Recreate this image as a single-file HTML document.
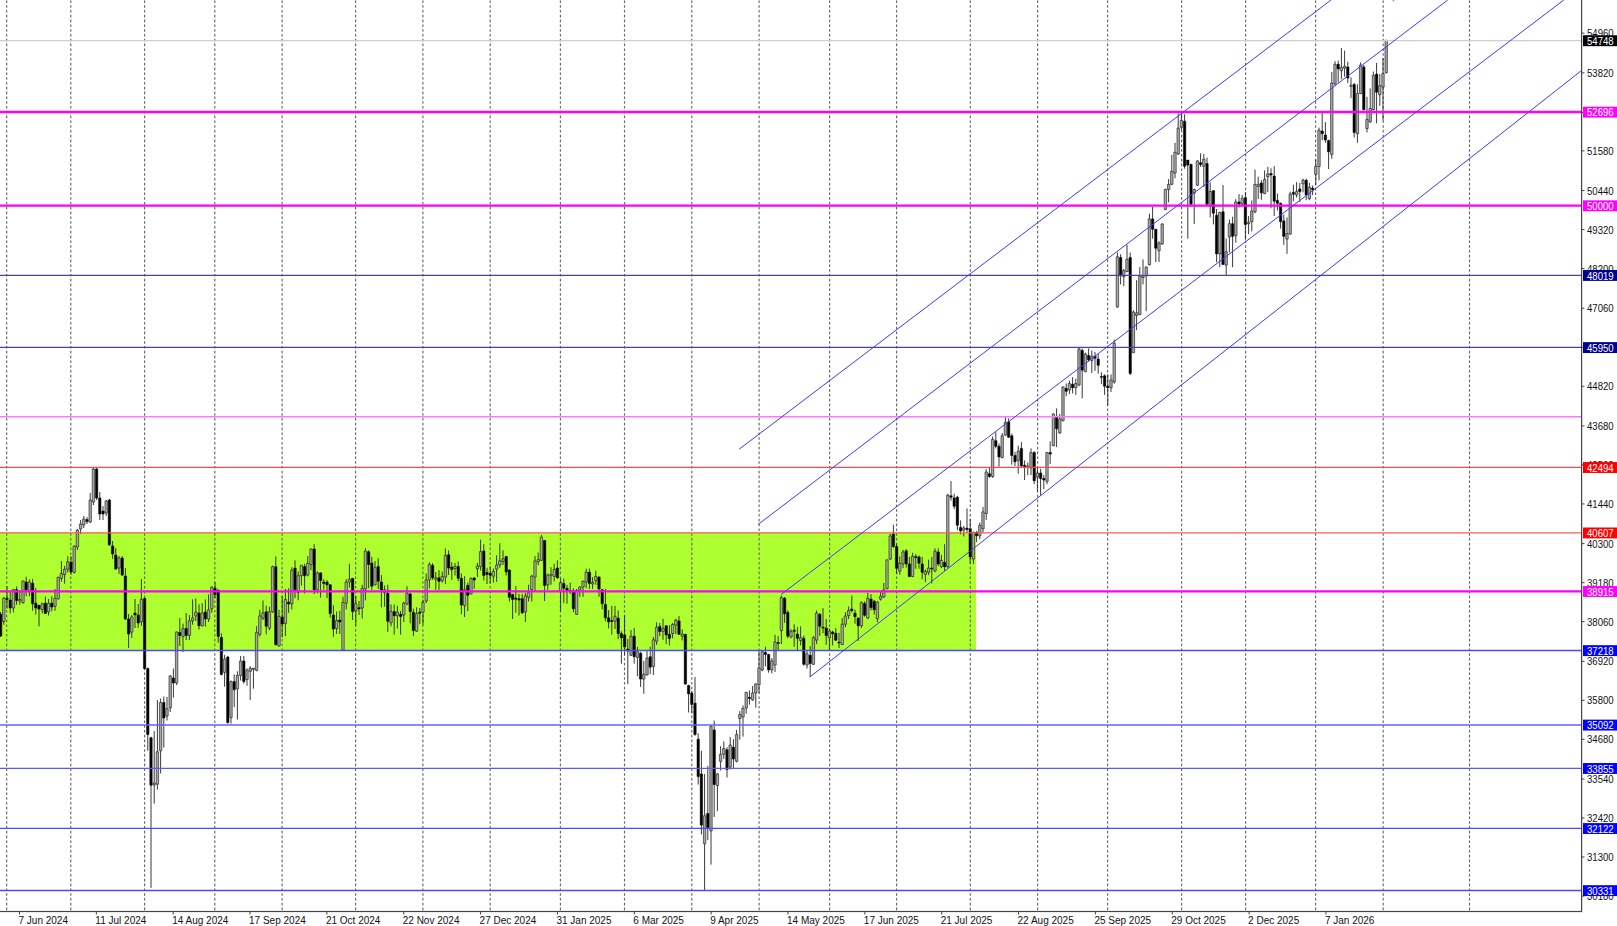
<!DOCTYPE html><html><head><meta charset="utf-8"><style>html,body{margin:0;padding:0;background:#fff;width:1617px;height:926px;overflow:hidden}svg{display:block}text{font-family:"Liberation Sans",sans-serif}</style></head><body>
<svg width="1617" height="926" viewBox="0 0 1617 926">
<rect x="0" y="0" width="1617" height="926" fill="#fff"/>
<rect x="0" y="532.6" width="976.1" height="117.79999999999995" fill="#ADFF2F"/>
<line x1="6.7" y1="0.4" x2="6.7" y2="910.5" stroke="#666" stroke-width="1.15" stroke-dasharray="2.6 2.2"/>
<line x1="70.8" y1="0.4" x2="70.8" y2="910.5" stroke="#666" stroke-width="1.15" stroke-dasharray="2.6 2.2"/>
<line x1="144.6" y1="0.4" x2="144.6" y2="910.5" stroke="#666" stroke-width="1.15" stroke-dasharray="2.6 2.2"/>
<line x1="214.8" y1="0.4" x2="214.8" y2="910.5" stroke="#666" stroke-width="1.15" stroke-dasharray="2.6 2.2"/>
<line x1="282.1" y1="0.4" x2="282.1" y2="910.5" stroke="#666" stroke-width="1.15" stroke-dasharray="2.6 2.2"/>
<line x1="355.6" y1="0.4" x2="355.6" y2="910.5" stroke="#666" stroke-width="1.15" stroke-dasharray="2.6 2.2"/>
<line x1="422.9" y1="0.4" x2="422.9" y2="910.5" stroke="#666" stroke-width="1.15" stroke-dasharray="2.6 2.2"/>
<line x1="490.2" y1="0.4" x2="490.2" y2="910.5" stroke="#666" stroke-width="1.15" stroke-dasharray="2.6 2.2"/>
<line x1="560.4" y1="0.4" x2="560.4" y2="910.5" stroke="#666" stroke-width="1.15" stroke-dasharray="2.6 2.2"/>
<line x1="624.5" y1="0.4" x2="624.5" y2="910.5" stroke="#666" stroke-width="1.15" stroke-dasharray="2.6 2.2"/>
<line x1="691.8" y1="0.4" x2="691.8" y2="910.5" stroke="#666" stroke-width="1.15" stroke-dasharray="2.6 2.2"/>
<line x1="759.1" y1="0.4" x2="759.1" y2="910.5" stroke="#666" stroke-width="1.15" stroke-dasharray="2.6 2.2"/>
<line x1="829.6" y1="0.4" x2="829.6" y2="910.5" stroke="#666" stroke-width="1.15" stroke-dasharray="2.6 2.2"/>
<line x1="896.6" y1="0.4" x2="896.6" y2="910.5" stroke="#666" stroke-width="1.15" stroke-dasharray="2.6 2.2"/>
<line x1="970.3" y1="0.4" x2="970.3" y2="910.5" stroke="#666" stroke-width="1.15" stroke-dasharray="2.6 2.2"/>
<line x1="1037.6" y1="0.4" x2="1037.6" y2="910.5" stroke="#666" stroke-width="1.15" stroke-dasharray="2.6 2.2"/>
<line x1="1107.6" y1="0.4" x2="1107.6" y2="910.5" stroke="#666" stroke-width="1.15" stroke-dasharray="2.6 2.2"/>
<line x1="1181.6" y1="0.4" x2="1181.6" y2="910.5" stroke="#666" stroke-width="1.15" stroke-dasharray="2.6 2.2"/>
<line x1="1245.6" y1="0.4" x2="1245.6" y2="910.5" stroke="#666" stroke-width="1.15" stroke-dasharray="2.6 2.2"/>
<line x1="1315.6" y1="0.4" x2="1315.6" y2="910.5" stroke="#666" stroke-width="1.15" stroke-dasharray="2.6 2.2"/>
<line x1="1383.2" y1="0.4" x2="1383.2" y2="910.5" stroke="#666" stroke-width="1.15" stroke-dasharray="2.6 2.2"/>
<line x1="1469.5" y1="0.4" x2="1469.5" y2="910.5" stroke="#666" stroke-width="1.15" stroke-dasharray="2.6 2.2"/>
<path d="M0.6 612.0V637.0M3.8 597.0V624.8M7.0 586.4V608.6M10.2 591.8V613.4M13.4 589.1V612.4M16.6 586.4V604.8M19.8 591.8V604.8M23.0 580.5V603.7M26.2 576.7V596.2M29.4 579.4V596.2M32.6 578.9V610.7M35.8 588.0V614.5M39.0 604.8V626.4M42.2 602.6V613.4M45.4 596.7V614.0M48.6 598.9V615.6M51.8 596.2V611.3M55.0 589.1V610.7M58.2 576.7V599.4M61.4 561.1V581.6M64.6 565.9V583.7M67.8 556.2V572.4M71.0 556.2V574.6M74.2 545.4V573.5M77.4 529.0V550.0M80.6 520.0V534.0M83.8 516.0V528.0M87.0 517.0V524.0M90.2 493.0V523.0M93.4 468.0V505.0M96.6 468.0V500.0M99.8 492.0V520.0M103.0 506.0V520.0M106.2 500.0V516.0M109.4 499.0V546.0M112.6 541.0V559.0M115.8 548.0V570.0M119.0 556.0V574.0M122.2 556.0V576.0M125.4 568.0V620.0M128.6 614.0V648.0M131.8 615.0V638.0M135.0 599.0V628.0M138.2 604.0V628.0M141.4 579.0V625.7M144.6 598.0V669.4M147.8 667.5V750.8M151.0 736.7V887.9M154.2 731.0V803.7M157.4 700.0V789.6M160.6 698.6V773.4M163.8 696.6V747.5M167.0 697.0V720.5M170.2 675.0V712.0M173.4 668.5V697.6M176.6 631.5V685.0M179.8 618.0V646.0M183.0 623.7V652.0M186.2 613.0V640.0M189.4 615.0V640.0M192.6 599.4V624.7M195.8 598.5V621.0M199.0 604.3V629.6M202.2 603.3V626.7M205.4 599.4V626.7M208.6 594.4V622.0M211.8 586.2V612.8M215.0 582.0V598.5M218.2 589.2V642.6M221.4 633.4V675.4M224.6 654.9V686.7M227.8 655.9V723.6M231.0 680.5V723.6M234.2 674.4V707.2M237.4 671.3V719.5M240.6 655.9V680.5M243.8 655.9V683.6M247.0 668.2V685.7M250.2 666.2V700.0M253.4 668.2V688.7M256.6 626.2V671.3M259.8 609.8V636.4M263.0 600.5V620.0M266.2 605.7V634.4M269.4 606.7V630.3M272.6 565.6V612.8M275.8 556.4V645.7M279.0 609.8V646.7M282.2 596.1V637.5M285.4 589.0V636.1M288.6 588.3V612.9M291.8 567.3V609.4M295.0 560.3V598.2M298.2 571.5V600.3M301.4 565.2V585.5M304.6 563.8V593.3M307.8 556.1V576.4M311.0 548.3V570.1M314.2 544.1V594.0M317.4 571.5V593.3M320.6 572.2V597.5M323.8 579.2V589.8M327.0 580.0V598.2M330.2 584.1V617.8M333.4 605.2V636.8M336.6 611.5V634.0M339.8 610.8V634.0M343.0 596.8V651.0M346.2 579.2V609.4M349.4 563.8V587.6M352.6 577.8V620.0M355.8 596.1V625.6M359.0 601.0V615.0M362.2 584.8V618.5M365.4 548.3V600.3M368.6 550.4V588.3M371.8 556.8V589.8M375.0 561.0V585.5M378.2 558.2V589.0M381.4 575.0V607.3M384.6 585.5V606.6M387.8 584.8V631.9M391.0 604.5V626.3M394.2 604.5V634.7M397.4 605.9V628.4M400.6 610.8V634.7M403.8 601.7V622.0M407.0 586.2V605.2M410.2 592.6V623.4M413.4 608.7V636.1M416.6 607.3V631.9M419.8 608.0V624.1M423.0 599.6V624.8M426.2 573.6V603.1M429.4 562.4V588.3M432.6 563.1V579.9M435.8 572.2V589.8M439.0 570.1V589.8M442.2 571.5V582.7M445.4 548.3V584.1M448.6 550.4V575.0M451.8 562.2V579.8M455.0 562.9V575.5M458.2 561.5V581.2M461.4 573.4V614.1M464.6 576.2V617.0M467.8 582.6V611.3M471.0 577.6V594.5M474.2 577.0V588.9M477.4 562.9V577.0M480.6 539.7V570.6M483.8 544.0V580.5M487.0 567.8V584.0M490.2 566.4V583.3M493.4 568.5V582.6M496.6 555.2V581.9M499.8 543.3V567.8M503.0 550.3V565.0M506.2 555.9V575.5M509.4 569.2V601.5M512.6 593.8V619.0M515.8 586.0V612.7M519.0 593.8V615.5M522.2 593.8V614.1M525.4 593.0V621.9M528.6 584.7V601.5M531.8 574.8V601.5M535.0 556.1V591.0M538.2 552.5V565.2M541.4 535.0V561.0M544.6 539.9V601.0M547.8 573.6V589.8M551.0 567.3V584.8M554.2 563.8V581.3M557.4 560.3V578.5M560.6 578.5V611.5M563.8 578.5V603.1M567.0 584.8V603.8M570.2 582.7V594.0M573.4 588.3V612.2M576.6 589.0V615.0M579.8 586.2V596.8M583.0 580.6V596.8M586.2 568.7V588.3M589.4 568.7V589.0M592.6 577.1V589.0M595.8 570.8V584.8M599.0 576.4V596.8M602.2 589.0V609.4M605.4 589.0V621.3M608.6 610.1V628.4M611.8 605.9V634.7M615.0 605.9V629.0M618.2 610.4V639.1M621.4 631.4V663.7M624.6 615.3V655.3M627.8 639.1V684.1M631.0 630.0V656.0M634.2 627.9V663.7M637.4 646.9V676.3M640.6 651.8V686.9M643.8 660.9V693.9M647.0 650.4V675.6M650.2 646.9V674.2M653.4 637.0V674.9M656.6 622.3V644.8M659.8 623.0V636.3M663.0 618.8V639.8M666.2 625.1V644.1M669.4 625.1V645.5M672.6 623.0V638.4M675.8 618.8V634.2M679.0 616.0V634.9M682.2 629.3V640.5M685.4 634.2V684.8M688.6 684.8V712.5M691.8 691.1V713.0M695.0 677.0V735.7M698.2 733.4V784.5M701.4 750.8V834.4M704.6 774.0V890.1M707.8 765.9V840.2M711.0 725.3V864.6M714.2 720.6V817.0M717.4 772.9V811.2M720.6 746.2V770.5M723.8 741.5V758.9M727.0 747.3V777.5M730.2 736.9V769.4M733.4 739.2V768.2M736.6 729.9V762.4M739.8 711.1V739.6M743.0 705.5V736.6M746.2 691.7V713.7M749.4 690.4V704.6M752.6 686.0V700.8M755.8 683.5V707.6M759.0 651.0V693.0M762.2 651.0V671.3M765.4 646.8V666.4M768.6 653.8V672.7M771.8 658.0V673.4M775.0 634.8V672.0M778.2 636.2V651.0M781.4 595.5V644.0M784.6 597.0V622.9M787.8 610.3V638.3M791.0 629.2V638.3M794.2 624.3V646.8M797.4 627.1V650.3M800.6 626.4V645.4M803.8 635.5V665.7M807.0 651.0V668.5M810.2 646.1V677.0M813.4 636.2V665.0M816.6 610.4V644.1M819.8 613.0V635.9M823.0 608.2V633.3M826.2 619.0V644.9M829.4 628.5V650.1M832.6 630.7V645.4M835.8 628.1V641.0M839.0 632.8V648.0M842.2 618.1V644.9M845.4 612.1V627.2M848.6 606.5V619.0M851.8 595.6V612.5M855.0 609.7V623.7M858.2 617.4V641.0M861.4 601.3V627.9M864.6 601.3V616.7M867.8 592.8V618.8M871.0 594.2V610.4M874.2 599.9V614.6M877.4 601.3V622.3M880.6 591.4V600.6M883.8 583.0V597.7M887.0 559.8V589.3M890.2 533.9V559.8M893.4 524.7V547.9M896.6 543.7V573.9M899.8 556.3V574.6M903.0 549.9V568.1M906.2 549.3V567.6M909.4 556.9V577.2M912.6 552.7V577.2M915.8 554.1V568.8M919.0 555.5V568.8M922.2 556.9V579.3M925.4 569.5V582.1M928.6 559.7V575.1M931.8 556.9V583.5M935.0 548.4V572.3M938.2 548.4V566.0M941.4 554.8V568.1M944.6 544.2V570.9M947.8 493.7V568.1M951.0 481.1V500.7M954.2 493.7V509.1M957.4 495.8V530.2M960.6 520.4V534.4M963.8 526.0V536.5M967.0 508.4V533.0M970.2 519.0V563.2M973.4 531.6V563.9M976.6 530.9V542.1M979.8 522.5V539.3M983.0 507.0V533.0M986.2 469.1V520.0M989.4 467.4V477.9M992.6 436.5V477.9M995.8 432.3V448.4M999.0 443.5V466.7M1002.2 433.0V458.3M1005.4 416.1V435.8M1008.6 418.3V437.9M1011.8 433.7V464.6M1015.0 451.9V466.0M1018.2 445.6V473.7M1021.4 442.1V466.7M1024.6 460.4V480.0M1027.8 462.5V475.1M1031.0 448.4V475.1M1034.2 451.2V484.2M1037.4 467.4V491.3M1040.6 468.8V495.5M1043.8 475.1V489.1M1047.0 451.9V484.2M1050.2 441.4V463.9M1053.4 413.3V446.3M1056.6 408.4V447.0M1059.8 414.0V433.7M1063.0 386.3V421.4M1066.2 383.5V396.2M1069.4 380.7V394.0M1072.6 377.2V393.4M1075.8 378.6V394.8M1079.0 347.7V386.3M1082.2 348.4V398.3M1085.4 352.6V372.3M1088.6 348.4V361.8M1091.8 350.5V373.0M1095.0 351.9V370.9M1098.2 354.0V373.7M1101.4 372.3V384.2M1104.6 374.4V394.8M1107.8 374.4V405.3M1111.0 374.4V392.0M1114.2 339.7V383.8M1117.4 252.5V307.8M1120.6 254.2V284.4M1123.8 268.9V286.2M1127.0 244.7V272.3M1130.2 252.5V375.1M1133.4 310.3V353.0M1136.6 280.1V330.2M1139.8 267.1V315.0M1143.0 259.4V284.4M1146.2 266.3V311.2M1149.4 213.7V265.5M1152.6 206.8V238.7M1155.8 229.2V262.0M1159.0 241.3V262.0M1162.2 223.2V244.8M1165.4 188.6V210.2M1168.6 179.1V202.4M1171.8 154.9V185.2M1175.0 142.8V178.3M1178.2 113.5V154.9M1181.4 113.5V130.0M1184.6 114.3V168.7M1187.8 160.0V238.7M1191.0 163.6V205.0M1194.2 188.6V224.0M1197.4 160.1V186.0M1200.6 153.2V167.0M1203.8 154.0V186.9M1207.0 157.5V205.0M1210.2 182.3V217.4M1213.4 190.0V224.4M1216.6 209.0V262.3M1219.8 211.8V267.2M1223.0 185.1V265.1M1226.2 238.4V275.0M1229.4 219.5V252.5M1232.6 216.7V267.2M1235.8 199.1V242.7M1239.0 194.2V207.6M1242.2 194.9V206.2M1245.4 192.1V239.8M1248.6 216.0V234.2M1251.8 200.5V231.4M1255.0 169.7V213.2M1258.2 176.7V199.1M1261.4 180.2V199.8M1264.6 170.4V194.2M1267.8 166.8V192.1M1271.0 168.3V208.3M1274.2 166.1V216.0M1277.4 193.5V210.4M1280.6 202.6V228.6M1283.8 214.6V244.8M1287.0 217.4V253.9M1290.2 191.6V234.8M1293.4 184.7V201.1M1296.6 182.1V197.6M1299.8 182.9V201.9M1303.0 178.6V192.4M1306.2 178.6V200.2M1309.4 183.0V200.2M1312.6 185.5V195.0M1315.8 159.6V184.7M1319.0 127.6V180.3M1322.2 113.0V140.2M1325.4 122.0V142.8M1328.6 139.7V169.1M1331.8 72.1V158.8M1335.0 61.1V85.7M1338.2 60.5V82.5M1341.4 48.1V79.3M1344.6 50.7V76.7M1347.8 61.8V83.1M1351.0 77.3V98.0M1354.2 83.1V137.6M1357.4 84.4V142.8M1360.6 62.4V94.2M1363.8 65.0V110.4M1367.0 96.8V132.4M1370.2 88.3V122.7M1373.4 71.5V110.4M1376.6 63.0V123.3M1379.8 74.1V105.8M1383.0 57.9V120.7M1386.2 39.7V73.4" stroke="#222" stroke-width="0.9" fill="none"/>
<path d="M2.6 598.3h2.4v23.2h-2.4zM12.2 589.7h2.4v18.3h-2.4zM18.6 599.5h2.4v1.5h-2.4zM21.8 581.0h2.4v21.6h-2.4zM28.2 582.0h2.4v8.8h-2.4zM41.0 603.7h2.4v6.0h-2.4zM47.4 603.2h2.4v8.6h-2.4zM53.8 598.3h2.4v8.1h-2.4zM57.0 577.3h2.4v21.6h-2.4zM60.2 573.5h2.4v4.8h-2.4zM63.4 569.2h2.4v5.4h-2.4zM66.6 561.6h2.4v7.6h-2.4zM73.0 546.0h2.4v26.4h-2.4zM76.2 530.0h2.4v17.0h-2.4zM79.4 524.0h2.4v5.0h-2.4zM82.6 519.0h2.4v6.0h-2.4zM89.0 500.0h2.4v22.0h-2.4zM92.2 469.0h2.4v33.0h-2.4zM105.0 501.0h2.4v12.0h-2.4zM117.8 558.0h2.4v10.0h-2.4zM130.6 617.0h2.4v15.0h-2.4zM140.2 599.4h2.4v22.4h-2.4zM153.0 783.0h2.4v2.0h-2.4zM156.2 751.8h2.4v32.4h-2.4zM159.4 702.5h2.4v48.3h-2.4zM165.8 708.6h2.4v7.4h-2.4zM169.0 676.0h2.4v32.0h-2.4zM175.4 632.0h2.4v51.0h-2.4zM181.8 628.6h2.4v7.8h-2.4zM188.2 620.8h2.4v14.6h-2.4zM191.4 617.9h2.4v2.9h-2.4zM194.6 612.0h2.4v4.0h-2.4zM201.0 613.0h2.4v12.7h-2.4zM207.4 609.8h2.4v9.2h-2.4zM210.6 587.2h2.4v21.5h-2.4zM223.4 659.0h2.4v13.3h-2.4zM229.8 681.6h2.4v35.9h-2.4zM236.2 675.4h2.4v13.3h-2.4zM239.4 661.0h2.4v14.4h-2.4zM245.8 670.3h2.4v9.2h-2.4zM249.0 668.2h2.4v3.1h-2.4zM252.2 668.2h2.4v1.3h-2.4zM255.4 632.3h2.4v38.0h-2.4zM258.6 615.9h2.4v18.5h-2.4zM261.8 612.8h2.4v5.2h-2.4zM268.2 611.8h2.4v16.4h-2.4zM271.4 566.7h2.4v45.1h-2.4zM277.8 616.4h2.4v29.5h-2.4zM284.2 599.6h2.4v23.8h-2.4zM290.6 570.1h2.4v33.7h-2.4zM297.0 575.7h2.4v16.9h-2.4zM300.2 565.2h2.4v10.5h-2.4zM306.6 563.1h2.4v11.9h-2.4zM309.8 549.0h2.4v15.5h-2.4zM316.2 572.9h2.4v16.9h-2.4zM335.4 620.6h2.4v7.8h-2.4zM341.8 602.4h2.4v47.7h-2.4zM345.0 582.0h2.4v21.1h-2.4zM348.2 579.2h2.4v2.8h-2.4zM354.6 603.8h2.4v7.0h-2.4zM361.0 588.3h2.4v19.7h-2.4zM364.2 551.1h2.4v37.9h-2.4zM373.8 567.3h2.4v17.5h-2.4zM383.4 589.8h2.4v2.8h-2.4zM389.8 611.5h2.4v11.2h-2.4zM396.2 612.2h2.4v3.5h-2.4zM402.6 603.1h2.4v11.9h-2.4zM405.8 593.3h2.4v10.5h-2.4zM415.4 613.6h2.4v17.6h-2.4zM421.8 602.4h2.4v9.8h-2.4zM425.0 579.9h2.4v21.1h-2.4zM428.2 564.5h2.4v15.4h-2.4zM434.6 577.8h2.4v1.4h-2.4zM441.0 576.4h2.4v4.2h-2.4zM444.2 555.4h2.4v21.7h-2.4zM453.8 566.4h2.4v2.1h-2.4zM463.4 589.6h2.4v16.1h-2.4zM469.8 578.3h2.4v15.5h-2.4zM476.2 566.0h2.4v2.8h-2.4zM479.4 551.7h2.4v14.7h-2.4zM492.2 571.3h2.4v4.9h-2.4zM495.4 565.0h2.4v4.2h-2.4zM498.6 560.8h2.4v4.2h-2.4zM501.8 558.7h2.4v2.8h-2.4zM524.2 595.9h2.4v16.1h-2.4zM527.4 592.4h2.4v4.9h-2.4zM530.6 576.2h2.4v13.4h-2.4zM533.8 561.0h2.4v16.1h-2.4zM537.0 559.6h2.4v2.1h-2.4zM540.2 537.1h2.4v23.2h-2.4zM546.6 575.0h2.4v9.8h-2.4zM549.8 574.3h2.4v1.4h-2.4zM553.0 569.4h2.4v7.0h-2.4zM559.4 582.7h2.4v8.5h-2.4zM575.4 590.5h2.4v23.8h-2.4zM578.6 587.0h2.4v2.8h-2.4zM581.8 581.3h2.4v5.7h-2.4zM585.0 572.2h2.4v9.8h-2.4zM591.4 582.4h2.4v1.5h-2.4zM594.6 576.4h2.4v4.2h-2.4zM613.8 616.4h2.4v4.9h-2.4zM629.8 636.3h2.4v19.0h-2.4zM636.2 651.8h2.4v5.6h-2.4zM642.6 674.2h2.4v4.9h-2.4zM645.8 658.1h2.4v16.9h-2.4zM652.2 639.8h2.4v26.7h-2.4zM655.4 627.2h2.4v14.0h-2.4zM661.8 628.6h2.4v2.8h-2.4zM671.4 624.4h2.4v9.1h-2.4zM674.6 620.2h2.4v4.9h-2.4zM681.0 634.2h2.4v2.1h-2.4zM703.4 815.8h2.4v27.9h-2.4zM709.8 726.4h2.4v104.5h-2.4zM716.2 774.0h2.4v11.6h-2.4zM719.4 754.3h2.4v7.0h-2.4zM722.6 748.5h2.4v5.8h-2.4zM729.0 745.0h2.4v22.1h-2.4zM735.4 734.6h2.4v26.7h-2.4zM738.6 714.6h2.4v3.8h-2.4zM741.8 708.5h2.4v8.6h-2.4zM745.0 692.5h2.4v15.6h-2.4zM751.4 693.0h2.4v6.9h-2.4zM754.6 683.9h2.4v9.1h-2.4zM757.8 667.8h2.4v16.9h-2.4zM761.0 651.7h2.4v18.2h-2.4zM770.6 660.8h2.4v9.1h-2.4zM773.8 641.9h2.4v23.1h-2.4zM780.2 597.6h2.4v33.0h-2.4zM789.8 631.3h2.4v5.7h-2.4zM799.4 637.6h2.4v2.9h-2.4zM805.8 653.8h2.4v11.2h-2.4zM812.2 637.6h2.4v26.7h-2.4zM815.4 613.0h2.4v27.2h-2.4zM828.2 631.1h2.4v6.5h-2.4zM841.0 624.2h2.4v20.3h-2.4zM844.2 616.0h2.4v8.2h-2.4zM847.4 610.4h2.4v5.2h-2.4zM860.2 602.7h2.4v23.1h-2.4zM866.6 598.4h2.4v19.7h-2.4zM876.2 602.0h2.4v16.8h-2.4zM879.4 596.3h2.4v2.8h-2.4zM882.6 590.0h2.4v7.0h-2.4zM885.8 559.8h2.4v28.8h-2.4zM889.0 536.0h2.4v23.1h-2.4zM898.6 563.3h2.4v7.8h-2.4zM901.8 552.0h2.4v11.9h-2.4zM911.4 556.2h2.4v20.3h-2.4zM924.2 571.6h2.4v2.8h-2.4zM927.4 568.1h2.4v4.2h-2.4zM933.8 551.3h2.4v19.6h-2.4zM940.2 560.4h2.4v6.3h-2.4zM946.6 495.1h2.4v71.6h-2.4zM962.6 528.1h2.4v2.1h-2.4zM972.2 532.3h2.4v26.7h-2.4zM978.6 525.3h2.4v10.5h-2.4zM981.8 511.9h2.4v16.9h-2.4zM985.0 472.0h2.4v41.5h-2.4zM991.4 439.3h2.4v37.2h-2.4zM1001.0 435.8h2.4v21.8h-2.4zM1004.2 422.5h2.4v12.6h-2.4zM1017.0 451.2h2.4v9.2h-2.4zM1026.6 466.0h2.4v1.4h-2.4zM1029.8 452.6h2.4v15.5h-2.4zM1036.2 473.0h2.4v4.2h-2.4zM1045.8 452.6h2.4v28.8h-2.4zM1052.2 414.0h2.4v31.6h-2.4zM1058.6 419.0h2.4v14.0h-2.4zM1061.8 387.0h2.4v33.7h-2.4zM1068.2 383.5h2.4v6.3h-2.4zM1074.6 383.5h2.4v4.2h-2.4zM1077.8 349.1h2.4v35.8h-2.4zM1084.2 354.0h2.4v17.6h-2.4zM1090.6 356.2h2.4v4.2h-2.4zM1109.8 380.0h2.4v7.7h-2.4zM1113.0 343.2h2.4v38.8h-2.4zM1116.2 256.8h2.4v50.1h-2.4zM1122.6 270.6h2.4v6.1h-2.4zM1125.8 259.4h2.4v12.1h-2.4zM1132.2 312.0h2.4v40.7h-2.4zM1135.4 312.9h2.4v2.6h-2.4zM1138.6 275.8h2.4v38.9h-2.4zM1141.8 275.8h2.4v1.7h-2.4zM1145.0 267.1h2.4v8.7h-2.4zM1148.2 218.9h2.4v45.7h-2.4zM1157.8 243.0h2.4v7.8h-2.4zM1161.0 224.0h2.4v19.9h-2.4zM1164.2 189.5h2.4v19.9h-2.4zM1167.4 184.3h2.4v5.2h-2.4zM1170.6 171.3h2.4v13.0h-2.4zM1173.8 152.3h2.4v20.8h-2.4zM1177.0 128.1h2.4v25.9h-2.4zM1180.2 120.4h2.4v6.9h-2.4zM1193.0 189.5h2.4v3.4h-2.4zM1196.2 161.0h2.4v24.2h-2.4zM1202.6 159.2h2.4v7.0h-2.4zM1209.0 191.4h2.4v14.8h-2.4zM1218.6 212.5h2.4v41.4h-2.4zM1225.0 251.8h2.4v13.3h-2.4zM1228.2 223.7h2.4v13.3h-2.4zM1234.6 202.0h2.4v33.6h-2.4zM1241.0 198.4h2.4v5.7h-2.4zM1247.4 222.3h2.4v1.4h-2.4zM1250.6 211.1h2.4v10.5h-2.4zM1253.8 184.4h2.4v27.4h-2.4zM1257.0 184.4h2.4v2.1h-2.4zM1263.4 179.5h2.4v14.0h-2.4zM1266.6 173.9h2.4v2.8h-2.4zM1285.8 233.5h2.4v5.6h-2.4zM1289.0 194.2h2.4v39.7h-2.4zM1295.4 191.6h2.4v3.4h-2.4zM1301.8 180.3h2.4v3.5h-2.4zM1308.2 187.3h2.4v11.2h-2.4zM1314.6 166.5h2.4v7.8h-2.4zM1317.8 130.2h2.4v36.3h-2.4zM1330.6 83.1h2.4v71.3h-2.4zM1333.8 64.3h2.4v19.5h-2.4zM1340.2 67.6h2.4v3.2h-2.4zM1343.4 66.3h2.4v1.9h-2.4zM1349.8 85.1h2.4v1.3h-2.4zM1356.2 93.5h2.4v40.2h-2.4zM1359.4 65.0h2.4v28.5h-2.4zM1365.8 119.4h2.4v9.1h-2.4zM1369.0 108.4h2.4v13.6h-2.4zM1372.2 75.4h2.4v34.3h-2.4zM1378.6 85.7h2.4v9.1h-2.4zM1381.8 73.4h2.4v13.6h-2.4zM1385.0 40.4h2.4v32.4h-2.4z" fill="#a8a8a8" stroke="#222" stroke-width="0.65"/>
<path d="M-0.6 614.0h2.4v22.0h-2.4zM5.8 598.3h2.4v1.1h-2.4zM9.0 600.0h2.4v8.0h-2.4zM15.4 589.7h2.4v10.8h-2.4zM25.0 582.1h2.4v7.6h-2.4zM31.4 583.2h2.4v20.5h-2.4zM34.6 603.2h2.4v4.8h-2.4zM37.8 605.3h2.4v3.8h-2.4zM44.2 603.2h2.4v10.2h-2.4zM50.6 603.2h2.4v3.8h-2.4zM69.8 562.1h2.4v9.8h-2.4zM85.8 519.6h2.4v2.0h-2.4zM95.4 469.0h2.4v29.0h-2.4zM98.6 498.0h2.4v16.0h-2.4zM101.8 511.0h2.4v3.0h-2.4zM108.2 500.0h2.4v45.0h-2.4zM111.4 546.0h2.4v8.0h-2.4zM114.6 555.0h2.4v14.0h-2.4zM121.0 558.0h2.4v17.0h-2.4zM124.2 576.0h2.4v43.0h-2.4zM127.4 619.0h2.4v15.0h-2.4zM133.8 613.0h2.4v2.0h-2.4zM137.0 615.0h2.4v8.0h-2.4zM143.4 598.5h2.4v70.0h-2.4zM146.6 668.5h2.4v66.1h-2.4zM149.8 737.8h2.4v47.5h-2.4zM162.6 702.5h2.4v15.5h-2.4zM172.2 678.0h2.4v5.0h-2.4zM178.6 632.5h2.4v2.9h-2.4zM185.0 628.6h2.4v6.8h-2.4zM197.8 613.0h2.4v12.7h-2.4zM204.2 612.0h2.4v7.0h-2.4zM213.8 588.2h2.4v6.2h-2.4zM217.0 590.3h2.4v46.1h-2.4zM220.2 637.5h2.4v36.9h-2.4zM226.6 657.0h2.4v65.6h-2.4zM233.0 681.6h2.4v8.2h-2.4zM242.6 661.0h2.4v20.6h-2.4zM265.0 611.8h2.4v14.4h-2.4zM274.6 566.7h2.4v77.9h-2.4zM281.0 617.1h2.4v7.0h-2.4zM287.4 602.1h2.4v2.0h-2.4zM293.8 568.0h2.4v21.8h-2.4zM303.4 566.6h2.4v9.1h-2.4zM313.0 549.0h2.4v40.8h-2.4zM319.4 572.9h2.4v7.7h-2.4zM322.6 582.0h2.4v1.4h-2.4zM325.8 582.0h2.4v2.8h-2.4zM329.0 584.8h2.4v28.8h-2.4zM332.2 615.0h2.4v14.1h-2.4zM338.6 620.0h2.4v2.0h-2.4zM351.4 578.5h2.4v33.0h-2.4zM357.8 607.7h2.4v1.3h-2.4zM367.4 551.8h2.4v12.7h-2.4zM370.6 563.1h2.4v23.1h-2.4zM377.0 566.6h2.4v14.7h-2.4zM380.2 582.0h2.4v7.8h-2.4zM386.6 593.3h2.4v28.0h-2.4zM393.0 611.5h2.4v4.2h-2.4zM399.4 614.3h2.4v2.1h-2.4zM409.0 594.0h2.4v17.5h-2.4zM412.2 612.2h2.4v18.3h-2.4zM418.6 611.9h2.4v1.4h-2.4zM431.4 565.2h2.4v12.6h-2.4zM437.8 577.8h2.4v3.5h-2.4zM447.4 554.7h2.4v13.3h-2.4zM450.6 567.1h2.4v2.5h-2.4zM457.0 566.4h2.4v11.9h-2.4zM460.2 578.3h2.4v26.7h-2.4zM466.6 585.4h2.4v9.8h-2.4zM473.0 578.0h2.4v2.0h-2.4zM482.6 551.0h2.4v24.5h-2.4zM485.8 572.5h2.4v1.9h-2.4zM489.0 573.4h2.4v1.9h-2.4zM505.0 556.6h2.4v15.4h-2.4zM508.2 570.0h2.4v27.3h-2.4zM511.4 594.5h2.4v4.9h-2.4zM514.6 598.0h2.4v1.2h-2.4zM517.8 598.7h2.4v1.4h-2.4zM521.0 598.7h2.4v14.0h-2.4zM543.4 540.6h2.4v44.9h-2.4zM556.2 568.0h2.4v9.8h-2.4zM562.6 583.4h2.4v4.9h-2.4zM565.8 588.3h2.4v2.2h-2.4zM569.0 590.5h2.4v0.8h-2.4zM572.2 591.2h2.4v17.5h-2.4zM588.2 572.2h2.4v11.2h-2.4zM597.8 577.1h2.4v11.9h-2.4zM601.0 589.8h2.4v14.0h-2.4zM604.2 604.5h2.4v13.3h-2.4zM607.4 617.8h2.4v4.2h-2.4zM610.6 620.6h2.4v0.8h-2.4zM617.0 618.1h2.4v15.4h-2.4zM620.2 633.5h2.4v4.2h-2.4zM623.4 634.9h2.4v12.0h-2.4zM626.6 649.0h2.4v2.1h-2.4zM633.0 636.3h2.4v20.4h-2.4zM639.4 653.2h2.4v25.9h-2.4zM649.0 656.7h2.4v10.5h-2.4zM658.6 626.5h2.4v4.9h-2.4zM665.0 625.8h2.4v9.1h-2.4zM668.2 634.2h2.4v4.2h-2.4zM677.8 620.9h2.4v13.3h-2.4zM684.2 634.3h2.4v49.8h-2.4zM687.4 685.5h2.4v8.4h-2.4zM690.6 693.2h2.4v11.2h-2.4zM693.8 703.2h2.4v31.4h-2.4zM697.0 739.2h2.4v37.2h-2.4zM700.2 774.0h2.4v51.1h-2.4zM706.6 813.5h2.4v13.9h-2.4zM713.0 729.9h2.4v54.6h-2.4zM725.8 749.7h2.4v19.7h-2.4zM732.2 747.3h2.4v11.7h-2.4zM748.2 697.3h2.4v1.3h-2.4zM764.2 652.4h2.4v2.1h-2.4zM767.4 654.5h2.4v15.4h-2.4zM777.0 642.6h2.4v0.8h-2.4zM783.4 598.3h2.4v15.5h-2.4zM786.6 612.4h2.4v23.8h-2.4zM793.0 630.2h2.4v1.1h-2.4zM796.2 634.1h2.4v4.2h-2.4zM802.6 638.3h2.4v26.0h-2.4zM809.0 655.2h2.4v8.4h-2.4zM818.6 614.3h2.4v12.0h-2.4zM821.8 627.2h2.4v0.9h-2.4zM825.0 628.1h2.4v7.3h-2.4zM831.4 632.0h2.4v1.7h-2.4zM834.6 633.3h2.4v6.9h-2.4zM837.8 642.2h2.4v0.8h-2.4zM850.6 609.0h2.4v1.4h-2.4zM853.8 613.2h2.4v3.5h-2.4zM857.0 618.1h2.4v7.7h-2.4zM863.4 603.4h2.4v11.9h-2.4zM869.8 599.1h2.4v8.5h-2.4zM873.0 601.3h2.4v8.4h-2.4zM892.2 533.9h2.4v12.6h-2.4zM895.4 546.5h2.4v21.8h-2.4zM905.0 550.7h2.4v13.3h-2.4zM908.2 563.9h2.4v12.6h-2.4zM914.6 556.6h2.4v1.0h-2.4zM917.8 556.9h2.4v6.3h-2.4zM921.0 563.9h2.4v8.4h-2.4zM930.6 568.1h2.4v0.8h-2.4zM937.0 552.0h2.4v11.9h-2.4zM943.4 562.5h2.4v4.2h-2.4zM949.8 495.8h2.4v1.4h-2.4zM953.0 497.9h2.4v8.4h-2.4zM956.2 497.2h2.4v28.1h-2.4zM959.4 527.4h2.4v3.5h-2.4zM965.8 528.1h2.4v1.4h-2.4zM969.0 528.8h2.4v28.1h-2.4zM975.4 532.3h2.4v3.5h-2.4zM988.2 473.7h2.4v2.8h-2.4zM994.6 440.7h2.4v5.6h-2.4zM997.8 446.3h2.4v10.6h-2.4zM1007.4 421.8h2.4v15.4h-2.4zM1010.6 435.8h2.4v19.7h-2.4zM1013.8 455.5h2.4v6.3h-2.4zM1020.2 448.4h2.4v17.6h-2.4zM1023.4 465.3h2.4v1.4h-2.4zM1033.0 452.6h2.4v28.1h-2.4zM1039.4 473.0h2.4v5.6h-2.4zM1042.6 478.6h2.4v1.4h-2.4zM1049.0 452.6h2.4v1.5h-2.4zM1055.4 416.8h2.4v12.0h-2.4zM1065.0 388.4h2.4v2.9h-2.4zM1071.4 384.2h2.4v3.5h-2.4zM1081.0 350.5h2.4v19.7h-2.4zM1087.4 355.5h2.4v4.2h-2.4zM1093.8 356.2h2.4v2.1h-2.4zM1097.0 359.0h2.4v6.3h-2.4zM1100.2 376.5h2.4v0.8h-2.4zM1103.4 375.8h2.4v10.5h-2.4zM1106.6 386.3h2.4v1.4h-2.4zM1119.4 257.6h2.4v18.2h-2.4zM1129.0 257.6h2.4v115.8h-2.4zM1151.4 218.9h2.4v10.3h-2.4zM1154.6 229.2h2.4v19.0h-2.4zM1183.4 121.2h2.4v45.0h-2.4zM1186.6 160.1h2.4v4.9h-2.4zM1189.8 164.4h2.4v39.8h-2.4zM1199.4 162.7h2.4v1.7h-2.4zM1205.8 163.6h2.4v40.6h-2.4zM1212.2 190.7h2.4v22.5h-2.4zM1215.4 215.3h2.4v38.6h-2.4zM1221.8 211.8h2.4v52.6h-2.4zM1231.4 223.7h2.4v12.6h-2.4zM1237.8 202.0h2.4v2.1h-2.4zM1244.2 197.7h2.4v26.7h-2.4zM1260.2 183.0h2.4v9.8h-2.4zM1269.8 173.6h2.4v1.4h-2.4zM1273.0 176.0h2.4v25.2h-2.4zM1276.2 200.5h2.4v2.8h-2.4zM1279.4 203.3h2.4v18.3h-2.4zM1282.6 220.9h2.4v15.4h-2.4zM1292.2 192.4h2.4v1.8h-2.4zM1298.6 189.0h2.4v2.6h-2.4zM1305.0 180.3h2.4v14.7h-2.4zM1311.4 188.1h2.4v1.7h-2.4zM1321.0 131.1h2.4v2.6h-2.4zM1324.2 135.0h2.4v5.0h-2.4zM1327.4 140.6h2.4v11.2h-2.4zM1337.0 64.3h2.4v4.6h-2.4zM1346.6 66.9h2.4v11.1h-2.4zM1353.0 84.4h2.4v48.0h-2.4zM1362.6 66.9h2.4v42.8h-2.4zM1375.4 74.1h2.4v18.1h-2.4z" fill="#000" stroke="#000" stroke-width="0.5"/>
<line x1="0" y1="40.58" x2="1581.5" y2="40.58" stroke="#cfcfcf" stroke-width="1.2"/>
<line x1="0" y1="111.99" x2="1581.5" y2="111.99" stroke="#ff00ff" stroke-width="2.3"/>
<line x1="0" y1="205.63" x2="1581.5" y2="205.63" stroke="#ff00ff" stroke-width="2.3"/>
<line x1="0" y1="275.30" x2="1581.5" y2="275.30" stroke="#4444aa" stroke-width="1.3"/>
<line x1="0" y1="347.43" x2="1581.5" y2="347.43" stroke="#4444aa" stroke-width="1.3"/>
<line x1="0" y1="416.80" x2="1581.5" y2="416.80" stroke="#ff77ff" stroke-width="1.4"/>
<line x1="0" y1="467.37" x2="1581.5" y2="467.37" stroke="#ff4a4a" stroke-width="1.3"/>
<line x1="0" y1="532.80" x2="1581.5" y2="532.80" stroke="#ff5a5a" stroke-width="1.3"/>
<line x1="0" y1="591.37" x2="1581.5" y2="591.37" stroke="#ff00ff" stroke-width="2.3"/>
<line x1="0" y1="650.48" x2="1581.5" y2="650.48" stroke="#4a4aff" stroke-width="1.3"/>
<line x1="0" y1="724.94" x2="1581.5" y2="724.94" stroke="#6262ff" stroke-width="1.4"/>
<line x1="0" y1="768.34" x2="1581.5" y2="768.34" stroke="#5a5aff" stroke-width="1.4"/>
<line x1="0" y1="828.40" x2="1581.5" y2="828.40" stroke="#4a4aff" stroke-width="1.3"/>
<line x1="0" y1="890.48" x2="1581.5" y2="890.48" stroke="#4a4aff" stroke-width="1.3"/>
<line x1="739.2" y1="449.2" x2="1331.03" y2="0.00" stroke="#3a3aff" stroke-width="1"/>
<line x1="758.2" y1="524.4" x2="1447.75" y2="0.00" stroke="#3a3aff" stroke-width="1"/>
<line x1="781.2" y1="594.4" x2="1563.82" y2="0.00" stroke="#3a3aff" stroke-width="1"/>
<line x1="809.8" y1="677.1" x2="1581.50" y2="70.54" stroke="#3a3aff" stroke-width="1"/>
<circle cx="1393.5" cy="0.4" r="0.9" fill="#999"/>
<rect x="1581.0" y="0" width="1.2" height="912.1" fill="#444"/>
<rect x="0" y="910.9" width="1582.0" height="1.2" fill="#444"/>
<rect x="1581.5" y="32.65" width="3" height="1" fill="#444"/>
<text x="1587" y="37.15" font-size="10" fill="#111" textLength="26.6" lengthAdjust="spacingAndGlyphs">54960</text>
<rect x="1581.5" y="72.35" width="3" height="1" fill="#444"/>
<text x="1587" y="76.85" font-size="10" fill="#111" textLength="26.6" lengthAdjust="spacingAndGlyphs">53820</text>
<rect x="1581.5" y="112.04" width="3" height="1" fill="#444"/>
<text x="1587" y="116.54" font-size="10" fill="#111" textLength="26.6" lengthAdjust="spacingAndGlyphs">52680</text>
<rect x="1581.5" y="150.35" width="3" height="1" fill="#444"/>
<text x="1587" y="154.85" font-size="10" fill="#111" textLength="26.6" lengthAdjust="spacingAndGlyphs">51580</text>
<rect x="1581.5" y="190.04" width="3" height="1" fill="#444"/>
<text x="1587" y="194.54" font-size="10" fill="#111" textLength="26.6" lengthAdjust="spacingAndGlyphs">50440</text>
<rect x="1581.5" y="229.04" width="3" height="1" fill="#444"/>
<text x="1587" y="233.54" font-size="10" fill="#111" textLength="26.6" lengthAdjust="spacingAndGlyphs">49320</text>
<rect x="1581.5" y="268.04" width="3" height="1" fill="#444"/>
<text x="1587" y="272.54" font-size="10" fill="#111" textLength="26.6" lengthAdjust="spacingAndGlyphs">48200</text>
<rect x="1581.5" y="307.74" width="3" height="1" fill="#444"/>
<text x="1587" y="312.24" font-size="10" fill="#111" textLength="26.6" lengthAdjust="spacingAndGlyphs">47060</text>
<rect x="1581.5" y="346.74" width="3" height="1" fill="#444"/>
<text x="1587" y="351.24" font-size="10" fill="#111" textLength="26.6" lengthAdjust="spacingAndGlyphs">45940</text>
<rect x="1581.5" y="385.74" width="3" height="1" fill="#444"/>
<text x="1587" y="390.24" font-size="10" fill="#111" textLength="26.6" lengthAdjust="spacingAndGlyphs">44820</text>
<rect x="1581.5" y="425.43" width="3" height="1" fill="#444"/>
<text x="1587" y="429.93" font-size="10" fill="#111" textLength="26.6" lengthAdjust="spacingAndGlyphs">43680</text>
<rect x="1581.5" y="464.43" width="3" height="1" fill="#444"/>
<text x="1587" y="468.93" font-size="10" fill="#111" textLength="26.6" lengthAdjust="spacingAndGlyphs">42560</text>
<rect x="1581.5" y="503.43" width="3" height="1" fill="#444"/>
<text x="1587" y="507.93" font-size="10" fill="#111" textLength="26.6" lengthAdjust="spacingAndGlyphs">41440</text>
<rect x="1581.5" y="543.13" width="3" height="1" fill="#444"/>
<text x="1587" y="547.63" font-size="10" fill="#111" textLength="26.6" lengthAdjust="spacingAndGlyphs">40300</text>
<rect x="1581.5" y="582.13" width="3" height="1" fill="#444"/>
<text x="1587" y="586.63" font-size="10" fill="#111" textLength="26.6" lengthAdjust="spacingAndGlyphs">39180</text>
<rect x="1581.5" y="621.13" width="3" height="1" fill="#444"/>
<text x="1587" y="625.63" font-size="10" fill="#111" textLength="26.6" lengthAdjust="spacingAndGlyphs">38060</text>
<rect x="1581.5" y="660.83" width="3" height="1" fill="#444"/>
<text x="1587" y="665.33" font-size="10" fill="#111" textLength="26.6" lengthAdjust="spacingAndGlyphs">36920</text>
<rect x="1581.5" y="699.83" width="3" height="1" fill="#444"/>
<text x="1587" y="704.33" font-size="10" fill="#111" textLength="26.6" lengthAdjust="spacingAndGlyphs">35800</text>
<rect x="1581.5" y="738.83" width="3" height="1" fill="#444"/>
<text x="1587" y="743.33" font-size="10" fill="#111" textLength="26.6" lengthAdjust="spacingAndGlyphs">34680</text>
<rect x="1581.5" y="778.52" width="3" height="1" fill="#444"/>
<text x="1587" y="783.02" font-size="10" fill="#111" textLength="26.6" lengthAdjust="spacingAndGlyphs">33540</text>
<rect x="1581.5" y="817.52" width="3" height="1" fill="#444"/>
<text x="1587" y="822.02" font-size="10" fill="#111" textLength="26.6" lengthAdjust="spacingAndGlyphs">32420</text>
<rect x="1581.5" y="856.52" width="3" height="1" fill="#444"/>
<text x="1587" y="861.02" font-size="10" fill="#111" textLength="26.6" lengthAdjust="spacingAndGlyphs">31300</text>
<rect x="1581.5" y="895.52" width="3" height="1" fill="#444"/>
<text x="1587" y="900.02" font-size="10" fill="#111" textLength="26.6" lengthAdjust="spacingAndGlyphs">30180</text>
<rect x="1583" y="35.28" width="40" height="10.9" fill="#000"/>
<text x="1587" y="45.08" font-size="10" fill="#fff" textLength="26.6" lengthAdjust="spacingAndGlyphs">54748</text>
<rect x="1583" y="106.69" width="40" height="10.9" fill="#ff00ff"/>
<text x="1587" y="116.49" font-size="10" fill="#fff" textLength="26.6" lengthAdjust="spacingAndGlyphs">52696</text>
<rect x="1583" y="200.33" width="40" height="10.9" fill="#ff00ff"/>
<text x="1587" y="210.13" font-size="10" fill="#fff" textLength="26.6" lengthAdjust="spacingAndGlyphs">50000</text>
<rect x="1583" y="270.00" width="40" height="10.9" fill="#000090"/>
<text x="1587" y="279.80" font-size="10" fill="#fff" textLength="26.6" lengthAdjust="spacingAndGlyphs">48019</text>
<rect x="1583" y="342.13" width="40" height="10.9" fill="#000090"/>
<text x="1587" y="351.93" font-size="10" fill="#fff" textLength="26.6" lengthAdjust="spacingAndGlyphs">45950</text>
<rect x="1583" y="462.07" width="40" height="10.9" fill="#ff0000"/>
<text x="1587" y="471.87" font-size="10" fill="#fff" textLength="26.6" lengthAdjust="spacingAndGlyphs">42494</text>
<rect x="1583" y="527.50" width="40" height="10.9" fill="#ff0000"/>
<text x="1587" y="537.30" font-size="10" fill="#fff" textLength="26.6" lengthAdjust="spacingAndGlyphs">40607</text>
<rect x="1583" y="586.07" width="40" height="10.9" fill="#ff00ff"/>
<text x="1587" y="595.87" font-size="10" fill="#fff" textLength="26.6" lengthAdjust="spacingAndGlyphs">38915</text>
<rect x="1583" y="645.18" width="40" height="10.9" fill="#0000ff"/>
<text x="1587" y="654.98" font-size="10" fill="#fff" textLength="26.6" lengthAdjust="spacingAndGlyphs">37218</text>
<rect x="1583" y="719.64" width="40" height="10.9" fill="#0000ff"/>
<text x="1587" y="729.44" font-size="10" fill="#fff" textLength="26.6" lengthAdjust="spacingAndGlyphs">35092</text>
<rect x="1583" y="763.04" width="40" height="10.9" fill="#0000ff"/>
<text x="1587" y="772.84" font-size="10" fill="#fff" textLength="26.6" lengthAdjust="spacingAndGlyphs">33855</text>
<rect x="1583" y="823.10" width="40" height="10.9" fill="#0000ff"/>
<text x="1587" y="832.90" font-size="10" fill="#fff" textLength="26.6" lengthAdjust="spacingAndGlyphs">32122</text>
<rect x="1583" y="885.18" width="40" height="10.9" fill="#0000ff"/>
<text x="1587" y="894.98" font-size="10" fill="#fff" textLength="26.6" lengthAdjust="spacingAndGlyphs">30331</text>
<rect x="19.00" y="911.5" width="1" height="3" fill="#444"/>
<text x="18.50" y="923.8" font-size="10" fill="#111">7 Jun 2024</text>
<rect x="95.85" y="911.5" width="1" height="3" fill="#444"/>
<text x="95.35" y="923.8" font-size="10" fill="#111">11 Jul 2024</text>
<rect x="172.70" y="911.5" width="1" height="3" fill="#444"/>
<text x="172.20" y="923.8" font-size="10" fill="#111">14 Aug 2024</text>
<rect x="249.55" y="911.5" width="1" height="3" fill="#444"/>
<text x="249.05" y="923.8" font-size="10" fill="#111">17 Sep 2024</text>
<rect x="326.40" y="911.5" width="1" height="3" fill="#444"/>
<text x="325.90" y="923.8" font-size="10" fill="#111">21 Oct 2024</text>
<rect x="403.25" y="911.5" width="1" height="3" fill="#444"/>
<text x="402.75" y="923.8" font-size="10" fill="#111">22 Nov 2024</text>
<rect x="480.10" y="911.5" width="1" height="3" fill="#444"/>
<text x="479.60" y="923.8" font-size="10" fill="#111">27 Dec 2024</text>
<rect x="556.95" y="911.5" width="1" height="3" fill="#444"/>
<text x="556.45" y="923.8" font-size="10" fill="#111">31 Jan 2025</text>
<rect x="633.80" y="911.5" width="1" height="3" fill="#444"/>
<text x="633.30" y="923.8" font-size="10" fill="#111">6 Mar 2025</text>
<rect x="710.65" y="911.5" width="1" height="3" fill="#444"/>
<text x="710.15" y="923.8" font-size="10" fill="#111">9 Apr 2025</text>
<rect x="787.50" y="911.5" width="1" height="3" fill="#444"/>
<text x="787.00" y="923.8" font-size="10" fill="#111">14 May 2025</text>
<rect x="864.35" y="911.5" width="1" height="3" fill="#444"/>
<text x="863.85" y="923.8" font-size="10" fill="#111">17 Jun 2025</text>
<rect x="941.20" y="911.5" width="1" height="3" fill="#444"/>
<text x="940.70" y="923.8" font-size="10" fill="#111">21 Jul 2025</text>
<rect x="1018.05" y="911.5" width="1" height="3" fill="#444"/>
<text x="1017.55" y="923.8" font-size="10" fill="#111">22 Aug 2025</text>
<rect x="1094.90" y="911.5" width="1" height="3" fill="#444"/>
<text x="1094.40" y="923.8" font-size="10" fill="#111">25 Sep 2025</text>
<rect x="1171.75" y="911.5" width="1" height="3" fill="#444"/>
<text x="1171.25" y="923.8" font-size="10" fill="#111">29 Oct 2025</text>
<rect x="1248.60" y="911.5" width="1" height="3" fill="#444"/>
<text x="1248.10" y="923.8" font-size="10" fill="#111">2 Dec 2025</text>
<rect x="1325.45" y="911.5" width="1" height="3" fill="#444"/>
<text x="1324.95" y="923.8" font-size="10" fill="#111">7 Jan 2026</text>
</svg></body></html>
